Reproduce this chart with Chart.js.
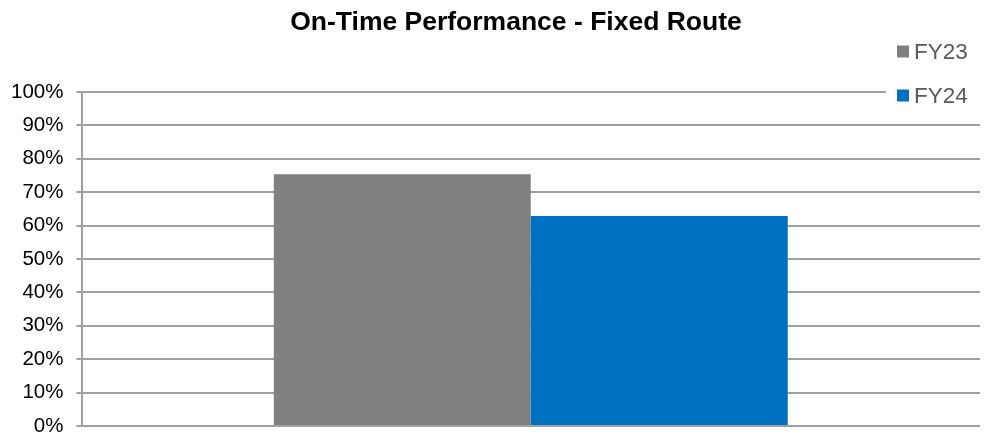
<!DOCTYPE html>
<html>
<head>
<meta charset="utf-8">
<script src="https://cdn.jsdelivr.net/npm/chart.js@4.4.1/dist/chart.umd.min.js"></script>
<style>
html,body{margin:0;padding:0;background:#fff;}
canvas{display:block;}
</style>
</head>
<body>
<canvas id="c" width="995" height="437"></canvas>
<script>
const categories = [''];
const seriesNames = ['FY23', 'FY24'];
const fy23 = [75.4];
const fy24 = [62.9];
const seriesColors = ['#808080', '#0070C0'];
const tickValues = [0,10,20,30,40,50,60,70,80,90,100];
const titleText = 'On-Time Performance - Fixed Route';

const FONT = '"Liberation Sans", Arial, sans-serif';

const overlayPlugin = {
  id: 'overlay',
  afterDraw(chart) {
    const ctx = chart.ctx;
    ctx.save();
    // title
    ctx.font = 'bold 26.5px ' + FONT;
    ctx.fillStyle = '#000';
    ctx.textAlign = 'center';
    ctx.textBaseline = 'alphabetic';
    ctx.fillText(titleText, 516, 29.5);
    // legend background
    ctx.fillStyle = '#fff';
    ctx.fillRect(886, 36, 109, 72);
    // legend items
    const ys = [51.5, 95.5];
    chart.data.datasets.forEach((ds, i) => {
      ctx.fillStyle = ds.backgroundColor;
      ctx.fillRect(897, ys[i] - 6, 12, 12);
      ctx.fillStyle = '#595959';
      ctx.font = '22.5px ' + FONT;
      ctx.textAlign = 'left';
      ctx.textBaseline = 'middle';
      ctx.fillText(ds.label, 914, ys[i] + 1);
    });
    ctx.restore();
  }
};

new Chart(document.getElementById('c'), {
  type: 'bar',
  data: {
    labels: categories,
    datasets: [
      { label: seriesNames[0], data: fy23, backgroundColor: seriesColors[0] },
      { label: seriesNames[1], data: fy24, backgroundColor: seriesColors[1] }
    ]
  },
  options: {
    responsive: false,
    animation: false,
    devicePixelRatio: 1,
    layout: { autoPadding: false, padding: { left: 0, right: 15, top: 92, bottom: 11 } },
    datasets: { bar: { categoryPercentage: 0.572, barPercentage: 1.0 } },
    plugins: {
      legend: { display: false },
      title: { display: false },
      tooltip: { enabled: false }
    },
    scales: {
      x: { display: false },
      y: {
        min: 0,
        max: 100,
        afterBuildTicks(scale) { scale.ticks = tickValues.map(v => ({ value: v })); },
        afterFit(scale) { scale.width = 81.5; scale.paddingTop = 0; scale.paddingBottom = 0; },
        ticks: {
          callback: v => v + '%',
          font: { family: FONT, size: 20.5 },
          color: '#000',
          padding: 13
        },
        grid: { color: '#a0a0a0', lineWidth: 2, tickLength: 5 },
        border: { color: '#a0a0a0', width: 2 }
      }
    }
  },
  plugins: [overlayPlugin]
});
</script>
</body>
</html>
